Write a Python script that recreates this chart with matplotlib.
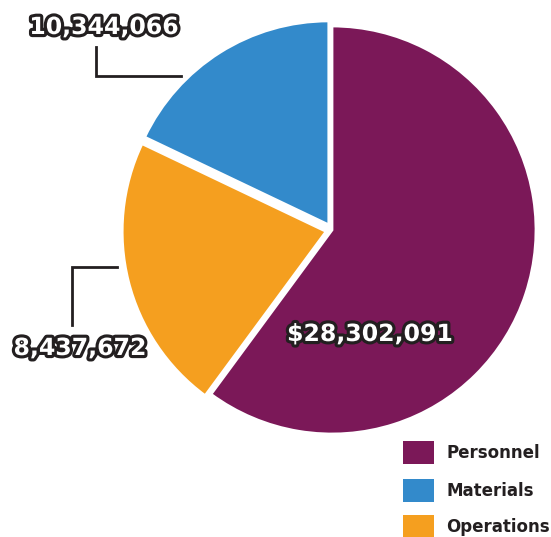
import matplotlib
matplotlib.use('Agg')
import matplotlib.pyplot as plt
import matplotlib.patheffects as pe
from matplotlib.patches import Rectangle

# data (slice order as drawn clockwise from the top)
categories = ['Personnel', 'Materials', 'Operations']
legend_colors = ['#7B1858', '#338ACB', '#F59F1F']
slice_values = [28302091, 10344066, 8437672]
slice_colors = ['#7B1858', '#F59F1F', '#338ACB']
labels = ['$28,302,091', '10,344,066', '8,437,672']
dark = '#231F20'

W, H = 551, 537
fig = plt.figure(figsize=(W / 100, H / 100), dpi=100)
ax = fig.add_axes([0, 0, 1, 1])

# pie, clockwise from the top (explode is in data units here = pixels)
cx, cy, r = 332, H - 230, 204
ax.pie(slice_values, colors=slice_colors, startangle=90, counterclock=False,
       center=(cx, cy), radius=r, explode=[0, 6, 6],
       wedgeprops=dict(edgecolor='white', linewidth=2))
ax.set_xlim(0, W)
ax.set_ylim(0, H)
ax.set_aspect('equal')
ax.axis('off')

stroke = [pe.withStroke(linewidth=4.5, foreground=dark)]
txt = dict(color='white', fontweight='heavy', family='DejaVu Sans',
           fontsize=17, path_effects=stroke)

ax.text(370, H - 334, labels[0], ha='center', va='center', **txt)
ax.text(104, H - 27, labels[1], ha='center', va='center', **txt)
ax.text(80, H - 348, labels[2], ha='center', va='center', **txt)

# leader lines
ax.plot([96, 96, 181], [H - 47, H - 76, H - 76], color=dark, lw=2,
        solid_joinstyle='miter')
ax.plot([72, 72, 117], [H - 325, H - 267, H - 267], color=dark, lw=2,
        solid_joinstyle='miter')

# legend
rows = [453, 491, 527]
for cat, col, y in zip(categories, legend_colors, rows):
    ax.add_patch(Rectangle((403, H - y - 11), 31, 23, color=col, lw=0))
    ax.text(446, H - y, cat, ha='left', va='center', color=dark,
            fontweight='bold', family='DejaVu Sans', fontsize=12)

fig.savefig('out.png', dpi=100)
